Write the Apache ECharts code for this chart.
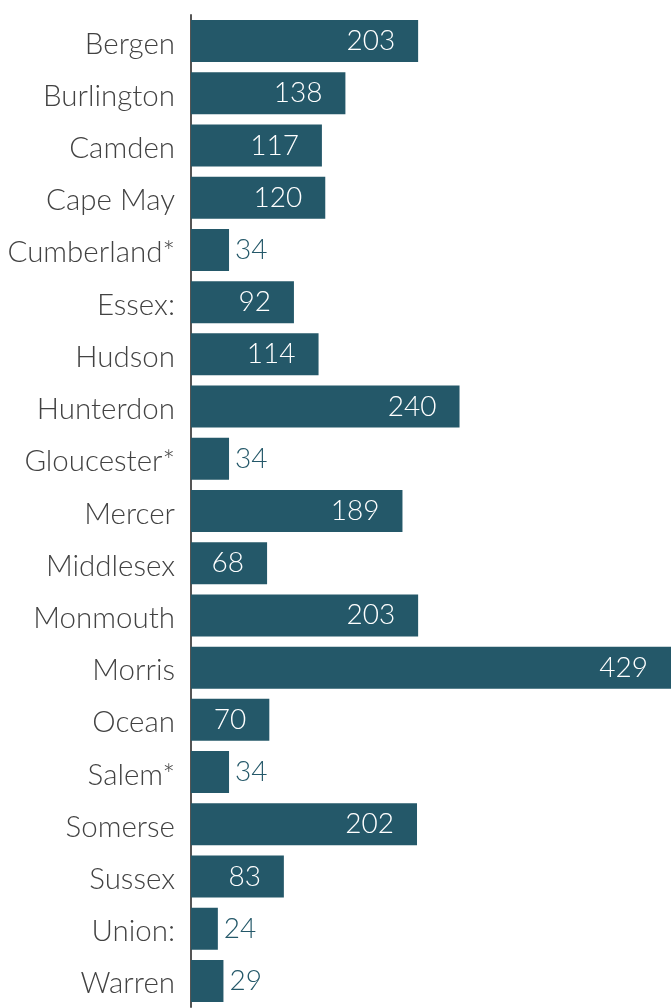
<!DOCTYPE html>
<html>
<head>
<meta charset="utf-8">
<script src="https://cdn.jsdelivr.net/npm/echarts@6/dist/echarts.min.js"></script>
<style>
  html, body { margin: 0; padding: 0; background: #ffffff; }
  #chart { width: 671px; height: 1008px; }
</style>
</head>
<body>
<div id="chart"></div>
<script>
// Counties, top to bottom
const counties = [
  'Bergen', 'Burlington', 'Camden', 'Cape May', 'Cumberland*', 'Essex:',
  'Hudson', 'Hunterdon', 'Gloucester*', 'Mercer', 'Middlesex', 'Monmouth',
  'Morris', 'Ocean', 'Salem*', 'Somerse', 'Sussex', 'Union:', 'Warren'
];

// Value per county (also printed on each bar)
const values = [
  203, 138, 117, 120, 34, 92,
  114, 240, 34, 189, 68, 203,
  429, 70, 34, 202, 83, 24, 29
];

const BAR_COLOR = '#245869';
const FONT = 'Lato, "Open Sans", sans-serif';

// Bars too short to hold their number get it printed just past the end
const LABEL_FIT_MIN = 40;

const seriesData = values.map(v => {
  const fits = v >= LABEL_FIT_MIN;
  return {
    value: v,
    label: fits
      ? { position: 'insideRight', distance: 23, color: '#ffffff' }
      : { position: 'right', distance: 6, color: BAR_COLOR }
  };
});

const chart = echarts.init(document.getElementById('chart'), null, { renderer: 'canvas' });

chart.setOption({
  animation: false,
  backgroundColor: '#ffffff',
  grid: { left: 191, right: 0, top: 15, bottom: 1, containLabel: false },
  xAxis: {
    type: 'value',
    min: 0,
    max: 429,
    show: false,
    splitLine: { show: false }
  },
  yAxis: {
    type: 'category',
    data: counties,
    inverse: true,
    axisLine: { show: true, lineStyle: { color: '#555555', width: 2 } },
    axisTick: { show: false },
    axisLabel: {
      margin: 16,
      formatter: name => '{c|' + name + '}',
      rich: {
        c: {
          color: '#424242',
          fontFamily: FONT,
          fontWeight: 300,
          fontSize: 29.5,
          padding: [6, 0, 0, 0]
        }
      }
    },
    splitLine: { show: false }
  },
  series: [{
    type: 'bar',
    data: seriesData,
    barWidth: 42,
    itemStyle: { color: BAR_COLOR },
    z: 3,
    label: {
      show: true,
      fontFamily: FONT,
      fontWeight: 300,
      fontSize: 28,
      formatter: '{c}'
    }
  }]
});
</script>
</body>
</html>
